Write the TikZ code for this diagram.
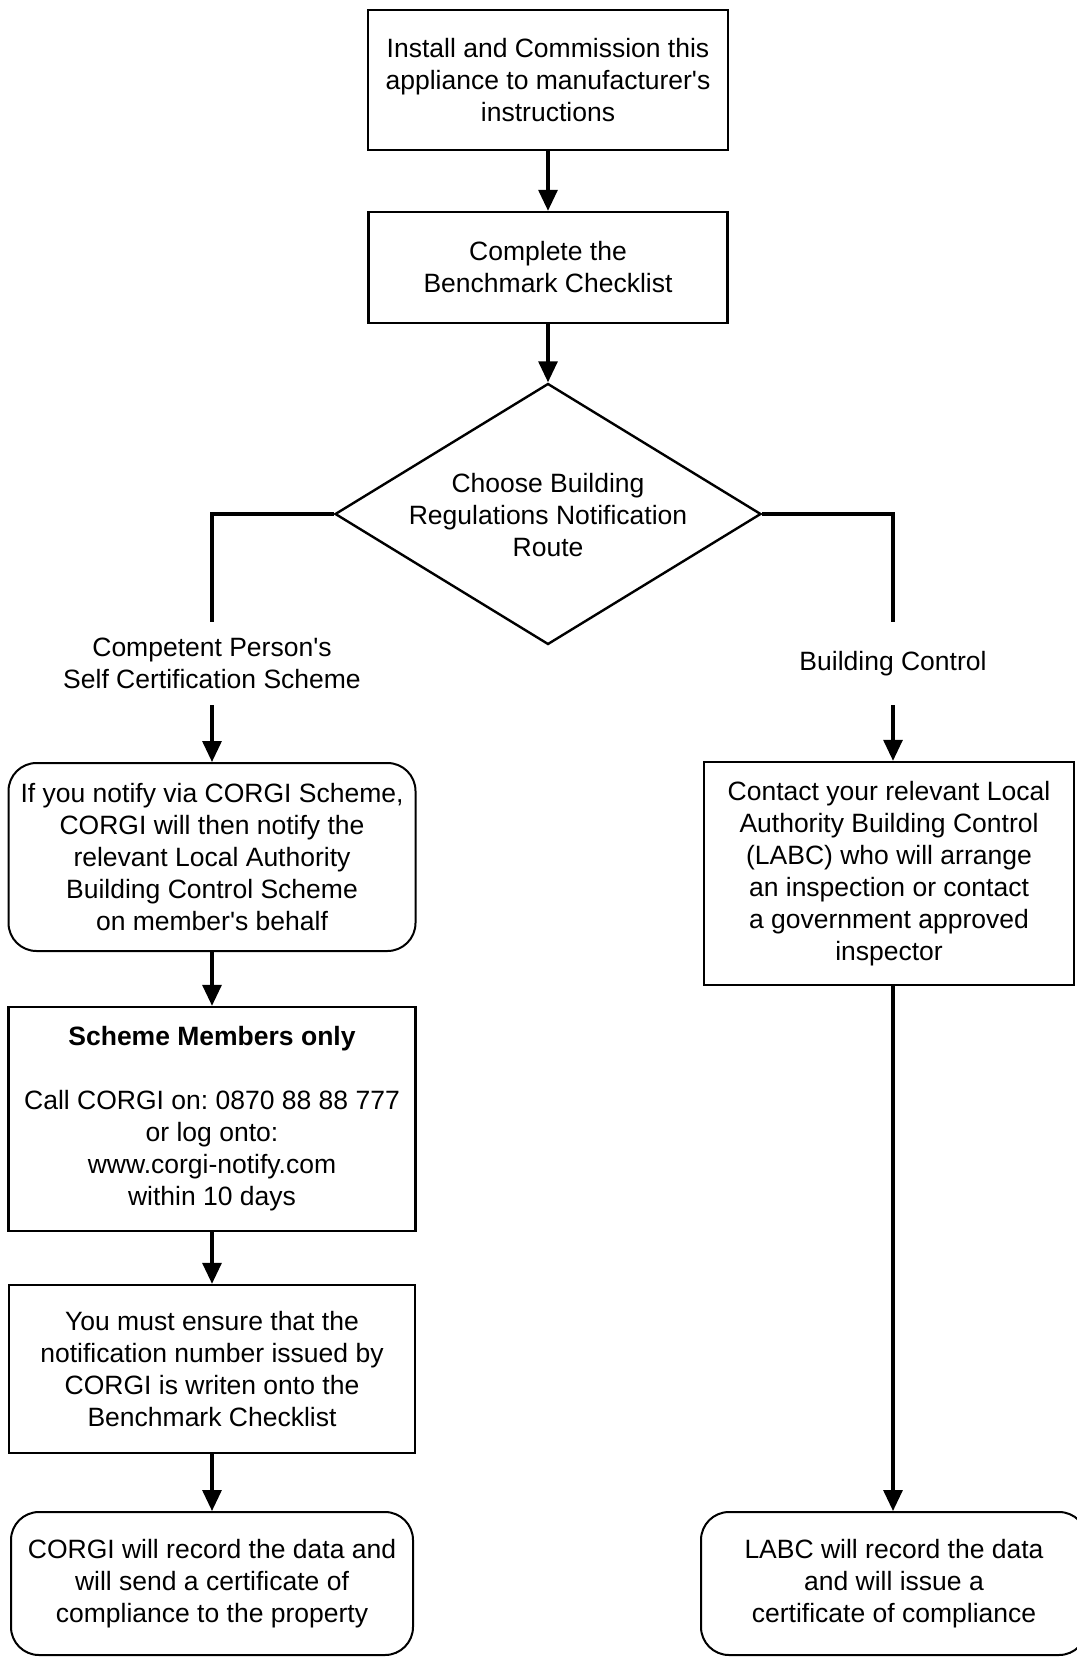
\documentclass[tikz,border=0pt]{standalone}
\usepackage{fontspec}
\setmainfont{Liberation Sans}
\usepackage{tikz}
\usetikzlibrary{shapes, arrows, arrows.meta, calc, fit}
\frenchspacing
\tikzstyle{component} = [rectangle, draw, line width=1.2pt, fill=white, 
    align=center, inner sep=2pt, font=\fontsize{13.25}{16}\selectfont]
\tikzstyle{roundbox} = [component, rounded corners=14pt, line width=1pt]
\tikzstyle{decision} = [diamond, draw, line width=1.2pt, inner sep=0pt,
    minimum width=213pt, minimum height=130.5pt]
\tikzstyle{branch} = [align=center, inner sep=0pt, minimum height=41.5pt,
    font=\fontsize{13.25}{16}\selectfont]
\tikzstyle{line} = [draw, line width=1.6pt, -{Triangle[length=10.5pt, width=9.5pt]}]
\tikzstyle{wire} = [draw, line width=1.6pt]

\begin{document}
\begin{tikzpicture}[x=0.5pt, y=-0.5pt, auto]
    \useasboundingbox (0,0) rectangle (1076,1657);
    % Nodes
    \node [component, minimum width=180pt, minimum height=70pt] (install) at (548,80) {Install and Commission this\\appliance to manufacturer\textquotesingle s\\instructions};
    \node [component, minimum width=179.5pt, minimum height=55.5pt, below of=install, node distance=93.75pt] (checklist) {Complete the\\Benchmark Checklist};
    \node [decision, below of=checklist, node distance=123.25pt] (route) {};
    \node [branch] (routetext) at (548,515) {Choose Building\\Regulations Notification\\Route};
    % Left branch
    \node [branch] (selfcert) at (212,663.5) {Competent Person\textquotesingle s\\Self Certification Scheme};
    \node [roundbox, minimum width=203.5pt, minimum height=94pt, below of=selfcert, node distance=96.75pt] (notify) {If you notify via CORGI Scheme,\\CORGI will then notify the\\relevant Local Authority\\Building Control Scheme\\on member\textquotesingle s behalf};
    \node [component, minimum width=203.5pt, minimum height=112pt, below of=notify, node distance=131pt] (members) {\textbf{Scheme Members only}\\[16pt]Call CORGI on: 0870 88 88 777\\or log onto:\\www.corgi-notify.com\\within 10 days};
    \node [component, minimum width=203pt, minimum height=84pt, below of=members, node distance=125pt] (ensure) {You must ensure that the\\notification number issued by\\CORGI is writen onto the\\Benchmark Checklist};
    \node [roundbox, minimum width=201pt, minimum height=71.5pt, below of=ensure, node distance=107.25pt] (corgirecord) {CORGI will record the data and\\will send a certificate of\\compliance to the property};
    % Right branch
    \node [branch] (building) at (893,663.5) {Building Control};
    \node [component, minimum width=185pt, minimum height=111.5pt] (contact) at (889,873.5) {Contact your relevant Local\\Authority Building Control\\(LABC) who will arrange\\an inspection or contact\\a government approved\\inspector};
    \node [roundbox, minimum width=193pt, minimum height=71.5pt] (labcrecord) at (894,1583.5) {LABC will record the data\\and will issue a\\certificate of compliance};
    % Edges
    \path[line] (install) -- (checklist);
    \path[line] (checklist) -- (route);
    \path[wire] (route.west) -| (selfcert.north);
    \path[wire] (route.east) -| (building.north);
    \path[line] (selfcert) -- (notify);
    \path[line] (notify) -- (members);
    \path[line] (members) -- (ensure);
    \path[line] (ensure) -- (corgirecord);
    \path[line] (building.south) -- (building.south |- contact.north);
    \path[line] (building |- contact.south) -- (building |- labcrecord.north);
\end{tikzpicture}
\end{document}
